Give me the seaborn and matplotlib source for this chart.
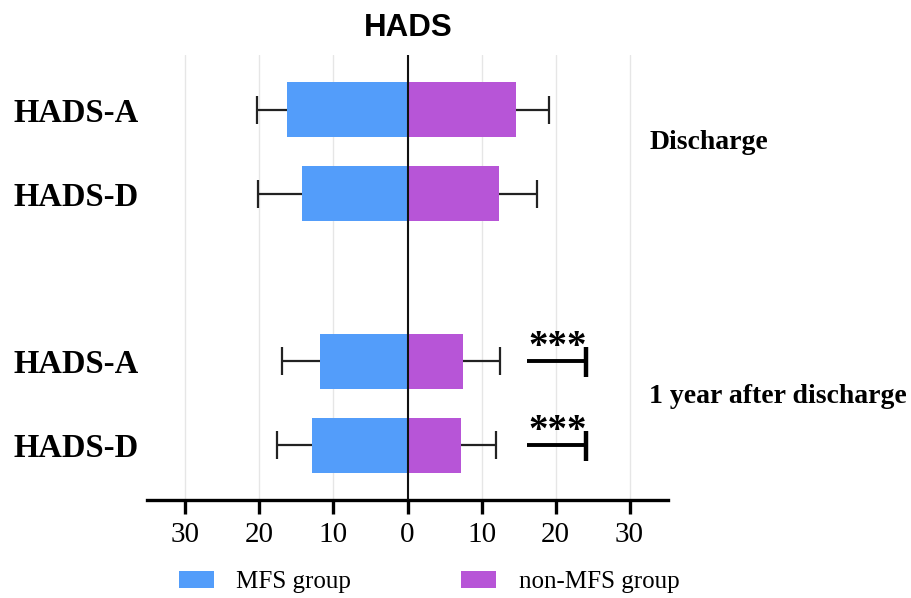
import numpy as np
import pandas as pd
import seaborn as sns
import matplotlib
matplotlib.use("Agg")
import matplotlib.pyplot as plt
from matplotlib.patches import Patch

# ---- data ----
row_labels = ["HADS-A", "HADS-D", "HADS-A", "HADS-D"]
row_pos = [0, 1, 3, 4]
mfs_mean = [16.3, 14.3, 11.8, 12.9]
mfs_sd = [4.1, 5.9, 5.2, 4.8]
non_mean = [14.6, 12.4, 7.5, 7.25]
non_sd = [4.5, 5.1, 5.0, 4.75]
groups = ["MFS group", "non-MFS group"]
colors = ["#539DFA", "#B755D7"]
period_labels = ["Discharge", "1 year after discharge"]
sig_rows = [3, 4]
sig_text = "***"
tick_vals = [-30, -20, -10, 0, 10, 20, 30]

df = pd.DataFrame({
    "pos": row_pos * 2,
    "value": [-v for v in mfs_mean] + non_mean,
    "group": [groups[0]] * 4 + [groups[1]] * 4,
})

sns.set_theme(style="white")
serif = ["Liberation Serif", "DejaVu Serif"]
plt.rcParams["font.family"] = serif
plt.rcParams["text.color"] = "black"
plt.rcParams["axes.labelcolor"] = "black"
plt.rcParams["xtick.color"] = "black"
plt.rcParams["ytick.color"] = "black"

fig = plt.figure(figsize=(9.12, 5.98), dpi=100)
ax = fig.add_axes([147 / 912, 1 - 500 / 598, (668 - 147) / 912, (500 - 55) / 598])

# grid lines
for t in tick_vals:
    if t != 0:
        ax.axvline(t, color="#e6e6e6", lw=1.0, zorder=0)

# error bars (drawn beneath the bars so only the outer half shows)
ax.errorbar([-v for v in mfs_mean], row_pos, xerr=mfs_sd, fmt="none",
            ecolor="#222222", elinewidth=1.6, capsize=10, capthick=1.6, zorder=1)
ax.errorbar(non_mean, row_pos, xerr=non_sd, fmt="none",
            ecolor="#222222", elinewidth=1.6, capsize=10, capthick=1.6, zorder=1)

sns.barplot(data=df, x="value", y="pos", hue="group", orient="y",
            native_scale=True, dodge=False, palette=colors, saturation=1,
            width=0.65, errorbar=None, linewidth=0, legend=False, ax=ax, zorder=2)

ax.axvline(0, color="#111111", lw=1.5, zorder=3)

ax.set_xlim(-35.2, 35.2)
ax.set_ylim(4.65, -0.65)

ax.set_xticks(tick_vals)
ax.set_xticklabels([str(abs(t)) for t in tick_vals], fontsize=21, family=serif)
ax.set_yticks(row_pos)
ax.set_yticklabels(row_labels, fontsize=23.5, fontweight="bold", family=serif)
ax.tick_params(axis="y", length=0, pad=6, labelcolor="black")
ax.tick_params(axis="x", direction="out", length=10, width=2.4, color="black",
               pad=6, bottom=True, labelcolor="black")
ax.set_xlabel("")
ax.set_ylabel("")
for s in ["top", "left", "right"]:
    ax.spines[s].set_visible(False)
ax.spines["bottom"].set_linewidth(2.4)
ax.spines["bottom"].set_color("black")

# significance brackets
for r in sig_rows:
    ax.plot([16.1, 24.2], [r, r], color="black", lw=2.8, solid_capstyle="butt", zorder=4)
    ax.plot([24.1, 24.1], [r - 0.17, r + 0.19], color="black", lw=3.2,
            solid_capstyle="butt", zorder=4)
    ax.text(20.3, r + 0.06, sig_text, ha="center", va="bottom", fontsize=28,
            fontweight="bold", family=serif, clip_on=False, color="black")

# period labels
ax.text(32.7, 0.39, period_labels[0], ha="left", va="center", fontsize=20,
        fontweight="bold", family=serif, clip_on=False, color="black")
ax.text(32.7, 3.42, period_labels[1], ha="left", va="center", fontsize=20,
        fontweight="bold", family=serif, clip_on=False, color="black")

fig.text(408 / 912, 1 - 28 / 598, "HADS", ha="center", va="center", fontsize=22.5,
         fontweight="bold", family=["Liberation Sans", "DejaVu Sans"], color="black")

handles = [Patch(facecolor=c, edgecolor="none") for c in colors]
fig.legend(handles, groups, loc="center left", bbox_to_anchor=(179 / 912, 1 - 582 / 598),
           ncol=2, frameon=False, handlelength=1.4, handleheight=0.65,
           handletextpad=0.9, columnspacing=4.4, borderpad=0, borderaxespad=0,
           prop={"family": serif, "size": 18}, labelcolor="black")

fig.savefig("out.png", dpi=100, facecolor="white")
